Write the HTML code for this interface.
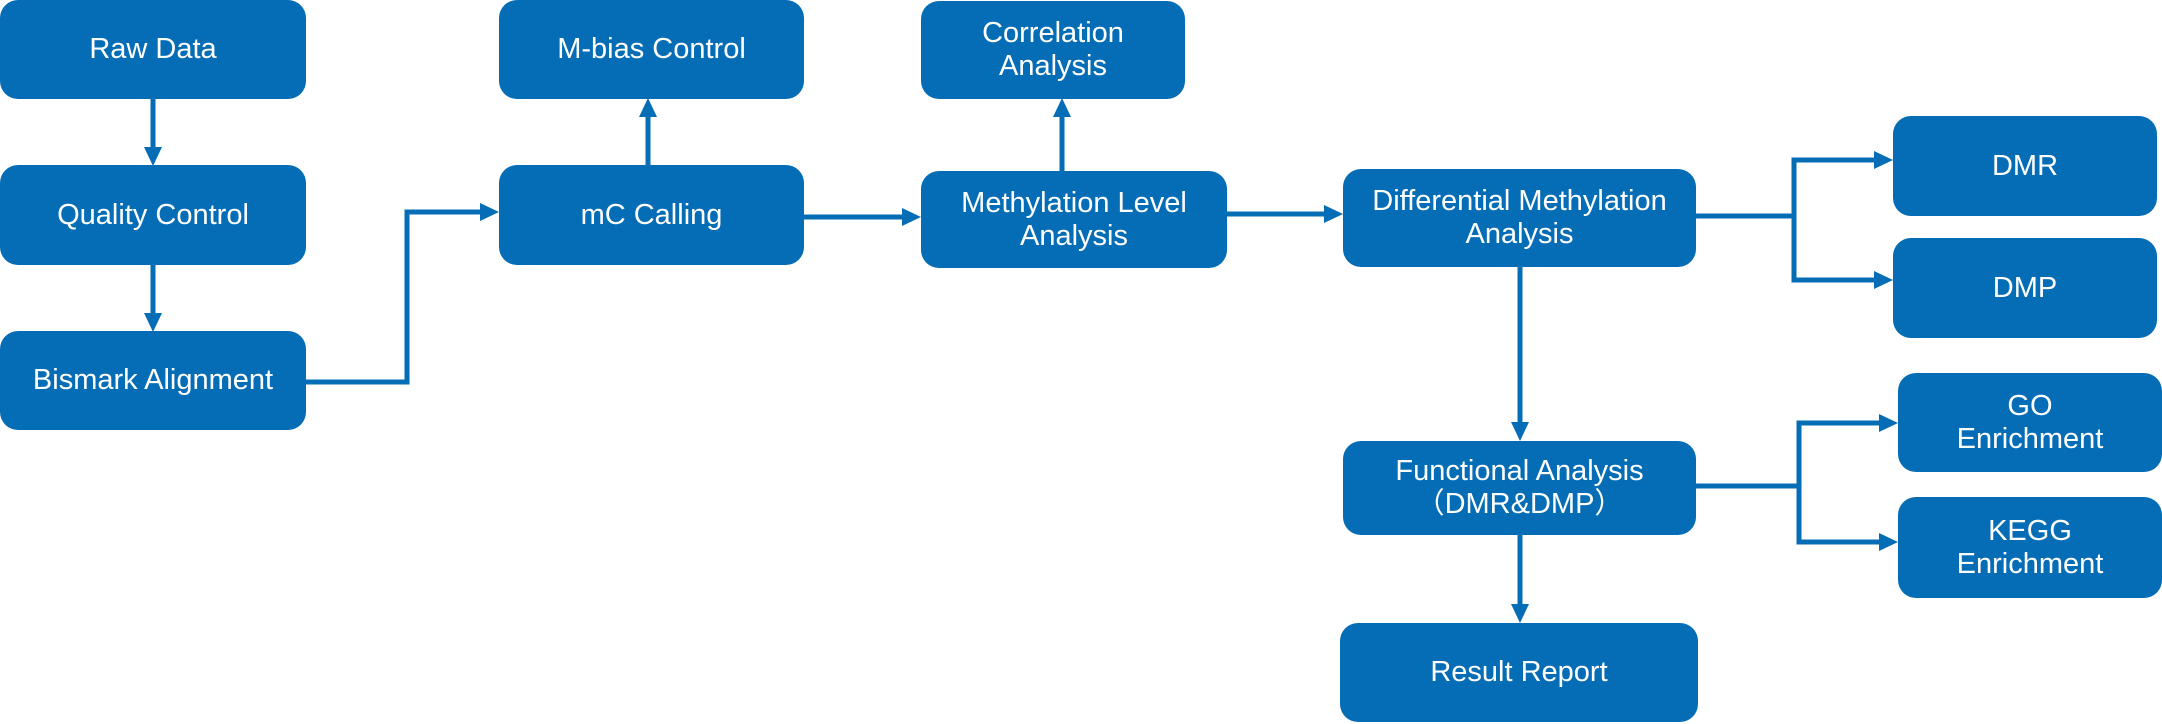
<!DOCTYPE html>
<html><head><meta charset="utf-8"><style>
body{margin:0;width:2162px;height:724px;background:#fff;position:relative;overflow:hidden;font-family:"Liberation Sans",sans-serif}
.b{position:absolute;background:#056db6;border-radius:18px;color:#fff;font-size:29px;line-height:33px;display:flex;align-items:center;justify-content:center;text-align:center}
svg{position:absolute;left:0;top:0}
</style></head><body>
<div class="b" style="left:0;top:0;width:306px;height:99px">Raw Data</div>
<div class="b" style="left:0;top:165px;width:306px;height:100px">Quality Control</div>
<div class="b" style="left:0;top:331px;width:306px;height:99px">Bismark Alignment</div>
<div class="b" style="left:499px;top:0;width:305px;height:99px">M-bias Control</div>
<div class="b" style="left:499px;top:165px;width:305px;height:100px">mC Calling</div>
<div class="b" style="left:921px;top:1px;width:264px;height:98px">Correlation<br>Analysis</div>
<div class="b" style="left:921px;top:171px;width:306px;height:97px">Methylation Level<br>Analysis</div>
<div class="b" style="left:1343px;top:169px;width:353px;height:98px">Differential Methylation<br>Analysis</div>
<div class="b" style="left:1893px;top:116px;width:264px;height:100px">DMR</div>
<div class="b" style="left:1893px;top:238px;width:264px;height:100px">DMP</div>
<div class="b" style="left:1343px;top:441px;width:353px;height:94px">Functional Analysis<br>（DMR&amp;DMP）</div>
<div class="b" style="left:1898px;top:373px;width:264px;height:99px">GO<br>Enrichment</div>
<div class="b" style="left:1898px;top:497px;width:264px;height:101px">KEGG<br>Enrichment</div>
<div class="b" style="left:1340px;top:623px;width:358px;height:99px">Result Report</div>
<svg width="2162" height="724">
<g stroke="#056db6" stroke-width="5" fill="none">
<path d="M153 99V150"/>
<path d="M153 265V316"/>
<path d="M306 382H407V212H484"/>
<path d="M648 165V114"/>
<path d="M804 217H906"/>
<path d="M1062 171V114"/>
<path d="M1227 214H1328"/>
<path d="M1696 216H1794V160H1878"/>
<path d="M1794 216V280H1878"/>
<path d="M1520 267V426"/>
<path d="M1696 486H1799V423H1883"/>
<path d="M1799 486V542H1883"/>
<path d="M1520 535V608"/>
</g>
<g fill="#056db6">
<polygon points="144,147 162,147 153,166"/>
<polygon points="144,313 162,313 153,332"/>
<polygon points="480,203 480,221 499,212"/>
<polygon points="639,117 657,117 648,98"/>
<polygon points="902,208 902,226 921,217"/>
<polygon points="1053,117 1071,117 1062,98"/>
<polygon points="1324,205 1324,223 1343,214"/>
<polygon points="1874,151 1874,169 1893,160"/>
<polygon points="1874,271 1874,289 1893,280"/>
<polygon points="1511,422 1529,422 1520,441"/>
<polygon points="1879,414 1879,432 1898,423"/>
<polygon points="1879,533 1879,551 1898,542"/>
<polygon points="1511,604 1529,604 1520,623"/>
</g>
</svg>
</body></html>
